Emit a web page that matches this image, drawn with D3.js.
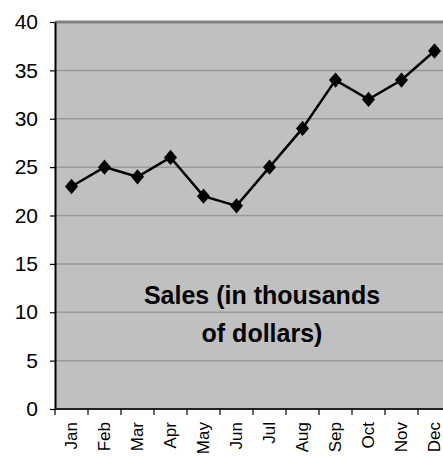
<!DOCTYPE html>
<html>
<head>
<meta charset="utf-8">
<script src="https://cdn.jsdelivr.net/npm/d3@7"></script>
<style>
  body { margin: 0; background: #fff; }
  text { font-family: Arial, "Liberation Sans", sans-serif; }
</style>
</head>
<body>
<svg width="443" height="456"></svg>
<script>
var months = ["Jan", "Feb", "Mar", "Apr", "May", "Jun", "Jul", "Aug", "Sep", "Oct", "Nov", "Dec"];
var sales = [23, 25, 24, 26, 22, 21, 25, 29, 34, 32, 34, 37];
var yTicks = [0, 5, 10, 15, 20, 25, 30, 35, 40];
var titleLines = ["Sales (in thousands", "of dollars)"];

var svg = d3.select("svg"),
    margin = {top: 22, right: -8, bottom: 47, left: 55},
    width = +svg.attr("width") - margin.left - margin.right,
    height = +svg.attr("height") - margin.top - margin.bottom;

var x = d3.scaleBand().domain(months).range([0, width]);
var y = d3.scaleLinear().domain([0, 40]).range([height, 0]);

var g = svg.append("g")
    .attr("transform", "translate(" + margin.left + "," + margin.top + ")");

// plot background
g.append("rect")
    .attr("width", width)
    .attr("height", height)
    .attr("fill", "#c0c0c0");

// gridlines
g.selectAll(".grid")
    .data(yTicks.slice(1, -1))
    .enter().append("line")
    .attr("x1", 0).attr("x2", width)
    .attr("y1", function (d) { return y(d); })
    .attr("y2", function (d) { return y(d); })
    .attr("stroke", "#999")
    .attr("stroke-width", 1.5);

// top border
g.append("line")
    .attr("x1", 0).attr("x2", width)
    .attr("y1", 0).attr("y2", 0)
    .attr("stroke", "#808080")
    .attr("stroke-width", 3);

// y axis
var yAxis = g.append("g")
    .call(d3.axisLeft(y).tickValues(yTicks).tickSizeInner(5).tickSizeOuter(0).tickPadding(12));
yAxis.select(".domain").attr("stroke", "#000").attr("stroke-width", 2);
yAxis.selectAll(".tick line").attr("stroke", "#000").attr("stroke-width", 1.2);
yAxis.selectAll(".tick text").attr("font-size", 21).attr("fill", "#000");

// x axis, ticks at band boundaries
var xAxis = g.append("g")
    .attr("transform", "translate(0," + height + ")");
xAxis.append("line")
    .attr("x1", 0).attr("x2", width)
    .attr("stroke", "#222").attr("stroke-width", 2);
xAxis.selectAll(".xtick")
    .data(months)
    .enter().append("line")
    .attr("x1", function (d) { return x(d); })
    .attr("x2", function (d) { return x(d); })
    .attr("y1", 0).attr("y2", 6)
    .attr("stroke", "#000").attr("stroke-width", 1.2);
xAxis.selectAll(".xlab")
    .data(months)
    .enter().append("text")
    .attr("transform", function (d) {
        return "translate(" + (x(d) + x.bandwidth() / 2 + 5) + ",13) rotate(-90)";
    })
    .attr("text-anchor", "end")
    .attr("font-size", 17)
    .attr("fill", "#000")
    .text(function (d) { return d; });

// line
var line = d3.line()
    .x(function (d, i) { return x(months[i]) + x.bandwidth() / 2; })
    .y(function (d) { return y(d); });

g.append("path")
    .datum(sales)
    .attr("d", line)
    .attr("fill", "none")
    .attr("stroke", "#000")
    .attr("stroke-width", 2.5);

// diamond markers (a bit taller than wide)
g.selectAll(".pt")
    .data(sales)
    .enter().append("path")
    .attr("d", d3.symbol().type(d3.symbolDiamond2).size(150))
    .attr("transform", function (d, i) {
        return "translate(" + (x(months[i]) + x.bandwidth() / 2) + "," + y(d) + ") scale(0.85,1)";
    })
    .attr("fill", "#000");

// title inside plot
g.selectAll(".title")
    .data(titleLines)
    .enter().append("text")
    .attr("x", 207)
    .attr("y", function (d, i) { return 282 + i * 38; })
    .attr("text-anchor", "middle")
    .attr("font-size", 25)
    .attr("font-weight", "bold")
    .attr("fill", "#000")
    .text(function (d) { return d; });
</script>
</body>
</html>
